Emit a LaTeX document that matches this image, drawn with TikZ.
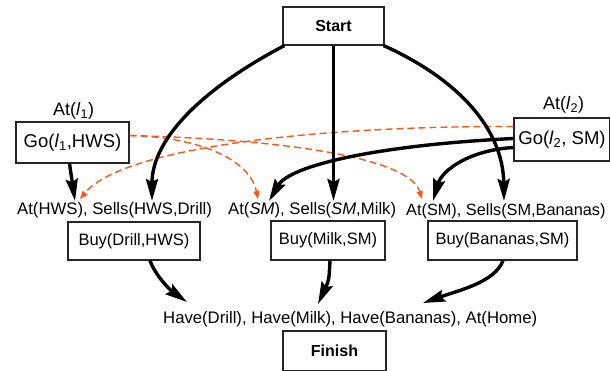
\documentclass[tikz,border=0pt]{standalone}
\usepackage{fontspec}
\setmainfont{Liberation Sans}
\usetikzlibrary{arrows.meta}
\definecolor{threatred}{RGB}{255,85,20}

\begin{document}
\begin{tikzpicture}[x=1pt,y=1pt,
                    act node/.style={draw=black!85,line width=1.1pt,inner sep=0pt,fill=white},
                    cond node/.style={inner sep=0pt,anchor=base west,font=\fontsize{16.7}{20}\selectfont},
                    link/.style={line width=3.4pt,-{Stealth[length=22pt,width=12pt,inset=3pt]}},
                    threat/.style={threatred,line width=1.4pt,dash pattern=on 7pt off 4pt,
                                   -{Triangle[length=8pt,width=6pt]}}]
  \useasboundingbox (0,0) rectangle (610,370);

  \node[act node,minimum width=101pt,minimum height=38pt,font=\fontsize{16}{19}\selectfont\bfseries]
    (start) at (333.5,344) {Start};
  \node[act node,minimum width=103pt,minimum height=40pt,font=\fontsize{16}{19}\selectfont\bfseries]
    (finish) at (334.5,19) {Finish};
  \node[act node,minimum width=113pt,minimum height=41pt,font=\fontsize{18.5}{22}\selectfont]
    (go1) at (72.5,227.5) {Go(\textit{l}\textsubscript{1},HWS)};
  \node[act node,minimum width=96pt,minimum height=43pt,font=\fontsize{18.5}{22}\selectfont]
    (go2) at (562,230.5) {Go(\textit{l}\textsubscript{2}, SM)};
  \node[act node,minimum width=132pt,minimum height=38pt,font=\fontsize{16.5}{20}\selectfont]
    (buydrill) at (134,129) {Buy(Drill,HWS)};
  \node[act node,minimum width=114pt,minimum height=39pt,font=\fontsize{16.5}{20}\selectfont]
    (buymilk) at (328,129.5) {Buy(Milk,SM)};
  \node[act node,minimum width=149pt,minimum height=39pt,font=\fontsize{16.5}{20}\selectfont]
    (buybananas) at (502.5,129.5) {Buy(Bananas,SM)};

  \node[cond node,font=\fontsize{18}{21}\selectfont] (at1) at (53,254) {At(\textit{l}\textsubscript{1})};
  \node[cond node,font=\fontsize{18}{21}\selectfont] (at2) at (543,260) {At(\textit{l}\textsubscript{2})};
  \node[cond node] (pre1) at (17,156) {At(HWS), Sells(HWS,Drill)};
  \node[cond node] (pre2) at (228,156) {At(\textit{SM}), Sells(\textit{SM},Milk)};
  \node[cond node,font=\fontsize{16.3}{20}\selectfont] (pre3) at (406,155) {At(SM), Sells(SM,Bananas)};
  \node[cond node] (goal) at (163,47) {Have(Drill), Have(Milk), Have(Bananas), At(Home)};

  \coordinate (hwsat) at (75,169);
  \coordinate (hwsat2) at (80,171);
  \coordinate (drillsells) at (152,169);
  \coordinate (milkat) at (269,169);
  \coordinate (milkat2) at (258,171);
  \coordinate (milksells) at (333.5,169);
  \coordinate (bananasat) at (433,169);
  \coordinate (bananasat2) at (422,171);
  \coordinate (bananassells) at (504,169);
  \coordinate (havedrill) at (187,68);
  \coordinate (havemilk) at (318,66);
  \coordinate (havebananas) at (423,67);

  \draw[threat] ([yshift=7pt]go1.east) .. controls (200,233) and (250,210) .. (milkat2);
  \draw[threat] ([yshift=7pt]go1.east) .. controls (300,230) and (410,210) .. (bananasat2);
  \draw[threat] ([yshift=13pt]go2.west) .. controls (300,244) and (120,220) .. (hwsat2);

  \draw[link] ([xshift=2pt]start.south west) .. controls (200,280) and (152,230) .. (drillsells);
  \draw[link] (start.south) -- (milksells);
  \draw[link] ([xshift=-1pt]start.south east) .. controls (460,290) and (503,240) .. (bananassells);
  \draw[link] ([xshift=-3pt]go1.south) -- (hwsat);
  \draw[link] ([yshift=1pt]go2.west) .. controls (380,225) and (290,205) .. (milkat);
  \draw[link] ([yshift=-8pt]go2.west) .. controls (470,220) and (442,200) .. (bananasat);
  \draw[link] ([xshift=16pt]buydrill.south) .. controls (155,95) and (170,80) .. (havedrill);
  \draw[link] ([xshift=2pt]buymilk.south) .. controls (329,90) .. (havemilk);
  \draw[link] ([xshift=0.5pt]buybananas.south) .. controls (495,88) and (460,80) .. (havebananas);
\end{tikzpicture}
\end{document}
